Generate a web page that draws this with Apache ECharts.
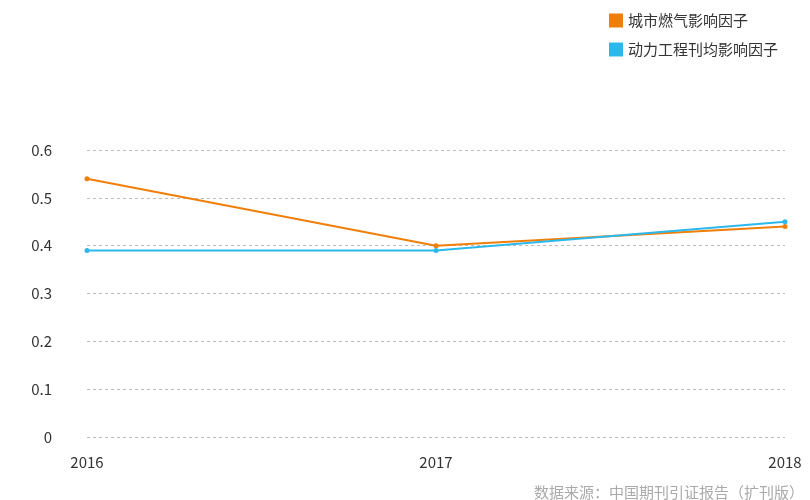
<!DOCTYPE html>
<html><head><meta charset="utf-8">
<script src="https://cdn.jsdelivr.net/npm/echarts@6/dist/echarts.min.js"></script>
<style>html,body{margin:0;padding:0;background:#fff}#c{width:810px;height:500px}</style>
</head><body><div id="c"></div>
<script>
const years = ['2016', '2017', '2018'];
const gasValues = [0.54, 0.40, 0.44];
const powerValues = [0.39, 0.39, 0.45];
const seriesNames = ['城市燃气影响因子', '动力工程刊均影响因子'];
const yTicks = [0, 0.1, 0.2, 0.3, 0.4, 0.5, 0.6];
const sourceText = '数据来源：中国期刊引证报告（扩刊版）';

const font = '"Microsoft YaHei","Noto Sans CJK SC",sans-serif';
const chart = echarts.init(document.getElementById('c'));
chart.setOption({
  animation: false,
  textStyle: {fontFamily: font},
  legend: {
    orient: 'vertical', right: 27, top: 8, itemGap: 14,
    itemWidth: 14, itemHeight: 14, icon: 'rect',
    textStyle: {fontSize: 15, color: '#333', fontFamily: font},
    data: seriesNames
  },
  graphic: [{
    type: 'text', right: 6, bottom: 0,
    style: {text: sourceText, fill: '#aaa', fontSize: 15, fontFamily: font}
  }],
  grid: {left: 87, right: 25, top: 150, bottom: 63},
  xAxis: {
    type: 'category', data: years, boundaryGap: false,
    axisLine: {show: false}, axisTick: {show: false},
    axisLabel: {color: '#333', fontSize: 15, margin: 18, fontFamily: font}
  },
  yAxis: {
    type: 'value', min: 0, max: yTicks[yTicks.length - 1], interval: 0.1,
    axisLine: {show: false}, axisTick: {show: false},
    axisLabel: {color: '#333', fontSize: 15, margin: 35, fontFamily: font},
    splitLine: {lineStyle: {type: [3, 3], color: '#bbb', width: 1}}
  },
  series: [
    {name: seriesNames[0], type: 'line', data: gasValues, symbol: 'circle', symbolSize: 5,
     itemStyle: {color: '#f07f0a'}, lineStyle: {width: 2, color: '#f07f0a'}},
    {name: seriesNames[1], type: 'line', data: powerValues, symbol: 'circle', symbolSize: 5,
     itemStyle: {color: '#2bb9ec'}, lineStyle: {width: 2, color: '#2bb9ec'}}
  ]
});
</script></body></html>
